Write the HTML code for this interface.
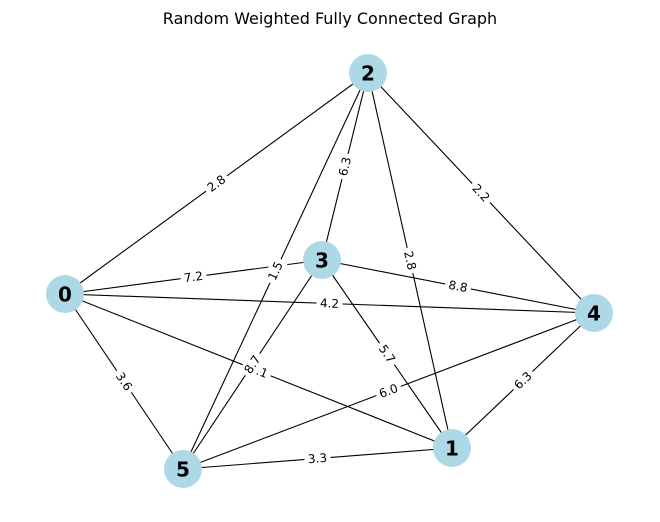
<!DOCTYPE html>
<html><head><meta charset="utf-8"><style>
html,body{margin:0;padding:0;background:#fff;}
svg{display:block;font-family:"DejaVu Sans","Liberation Sans",sans-serif;}
</style></head><body>
<svg id="chart" width="660" height="522" viewBox="0 0 660 522">
<text x="330" y="24" text-anchor="middle" font-size="16" fill="#000">Random Weighted Fully Connected Graph</text>
<g id="edges"></g>
<g id="elabels"></g>
<g id="nodes"></g>
</svg>
<script>
const nodeIds = ["0","1","2","3","4","5"];
const nodeX = [65, 452, 368, 322, 594, 183];
const nodeY = [294, 448, 73, 260, 313, 469];
const edgeFrom = [0,0,0,0,0,1,1,1,1,2,2,2,3,3,4];
const edgeTo   = [1,2,3,4,5,2,3,4,5,3,4,5,4,5,5];
const edgeWeights = ["7.1","2.8","7.2","4.2","3.6","2.8","5.7","6.3","3.3","6.3","2.2","1.5","8.8","8.7","6.0"];
const NS="http://www.w3.org/2000/svg";
const eg=document.getElementById('edges'), lg=document.getElementById('elabels'), ng=document.getElementById('nodes');
function sx(i){return nodeX[i];} function sy(i){return nodeY[i];}
for(let k=0;k<edgeFrom.length;k++){
  const a=edgeFrom[k], b=edgeTo[k];
  const l=document.createElementNS(NS,'line');
  l.setAttribute('x1',sx(a));l.setAttribute('y1',sy(a));l.setAttribute('x2',sx(b));l.setAttribute('y2',sy(b));
  l.setAttribute('stroke','#000');l.setAttribute('stroke-width','1.1');
  
  
  eg.appendChild(l);
}
for(let k=0;k<edgeFrom.length;k++){
  const a=edgeFrom[k], b=edgeTo[k];
  const mx=(sx(a)+sx(b))/2, my=(sy(a)+sy(b))/2;
  let ang=Math.atan2(sy(b)-sy(a),sx(b)-sx(a))*180/Math.PI;
  if(ang>90)ang-=180; if(ang<-90)ang+=180;
  const g=document.createElementNS(NS,'g');
  g.setAttribute('transform','translate('+mx+','+my+') rotate('+ang+')');
  
  
  const r=document.createElementNS(NS,'rect');
  r.setAttribute('x',-13);r.setAttribute('y',-8);r.setAttribute('width',26);r.setAttribute('height',16);r.setAttribute('fill','#fff');
  const t=document.createElementNS(NS,'text');
  t.setAttribute('text-anchor','middle');t.setAttribute('y',4);t.setAttribute('font-size','12');
  t.textContent=edgeWeights[k];
  g.appendChild(r);g.appendChild(t);lg.appendChild(g);
}
for(let i=0;i<nodeIds.length;i++){
  const g=document.createElementNS(NS,'g');
  
  
  const c=document.createElementNS(NS,'circle');
  c.setAttribute('cx',sx(i));c.setAttribute('cy',sy(i));c.setAttribute('r',19);c.setAttribute('fill','#add8e6');
  const t=document.createElementNS(NS,'text');
  t.setAttribute('x',sx(i));t.setAttribute('y',sy(i)+7.5);t.setAttribute('text-anchor','middle');
  t.setAttribute('font-size','20');t.setAttribute('font-weight','bold');
  t.textContent=nodeIds[i];
  g.appendChild(c);g.appendChild(t);ng.appendChild(g);
}
</script>
</body></html>
